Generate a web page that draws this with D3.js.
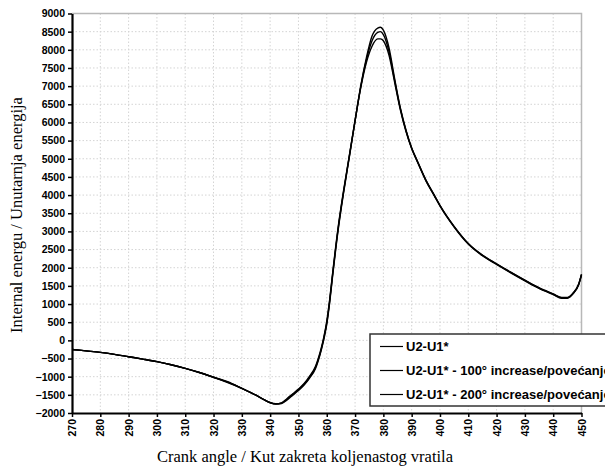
<!DOCTYPE html>
<html>
<head>
<meta charset="utf-8">
<script src="https://cdn.jsdelivr.net/npm/d3@7"></script>
<style>
  body { margin: 0; background: #fff; }
  svg { display: block; }
</style>
</head>
<body>
<div id="chart-area"></div>
<script>
// crank angle (deg) and internal energy for the three runs
var angles = [270, 275, 280, 285, 290, 295, 300, 305, 310, 315, 320, 325, 330, 335, 338, 340, 342, 344, 346, 348, 350, 352, 354, 356, 357, 358, 359, 360, 361, 362, 364, 366, 368, 370, 372, 374, 376, 378, 379, 380, 382, 384, 386, 388, 390, 392, 395, 398, 400, 405, 410, 415, 420, 425, 430, 435, 440, 443, 445, 447, 449, 450];
var base = [-250, -290, -330, -385, -450, -515, -585, -670, -770, -885, -1015, -1160, -1320, -1510, -1640, -1710, -1745, -1720, -1600, -1470, -1340, -1190, -980, -720, -500, -230, 100, 520, 1100, 1800, 3100, 4150, 5100, 6050, 6950, 7650, 8100, 8300, 8300, 8250, 7850, 7100, 6350, 5750, 5280, 4920, 4400, 3980, 3700, 3120, 2650, 2330, 2090, 1860, 1640, 1430, 1260, 1160, 1160, 1280, 1530, 1800];
var run100 = [-250, -290, -330, -385, -450, -515, -585, -670, -770, -885, -1015, -1140, -1320, -1510, -1640, -1715, -1750, -1730, -1620, -1490, -1360, -1210, -1010, -750, -530, -260, 70, 480, 1060, 1760, 3060, 4120, 5080, 6050, 6980, 7720, 8250, 8480, 8500, 8420, 7950, 7150, 6380, 5770, 5290, 4930, 4410, 3990, 3710, 3130, 2660, 2340, 2100, 1870, 1650, 1440, 1270, 1170, 1170, 1290, 1540, 1810];
var run200 = [-250, -290, -330, -385, -450, -515, -585, -670, -770, -885, -1015, -1150, -1320, -1510, -1640, -1720, -1755, -1740, -1640, -1510, -1380, -1230, -1030, -780, -560, -290, 40, 440, 1020, 1720, 3020, 4090, 5060, 6040, 7000, 7780, 8380, 8600, 8620, 8540, 8050, 7200, 6400, 5790, 5300, 4940, 4420, 4000, 3720, 3140, 2670, 2350, 2110, 1880, 1660, 1450, 1280, 1180, 1180, 1300, 1550, 1820];
var seriesNames = ["U2-U1*", "U2-U1* - 100\u00b0 increase/pove\u0107anje", "U2-U1* - 200\u00b0 increase/pove\u0107anje"];
var xTicks = d3.range(270, 451, 10);
var yTicks = d3.range(-2000, 9001, 500);

const MARGIN = { LEFT: 72, RIGHT: 23.5, TOP: 13.5, BOTTOM: 57 }
const WIDTH = 605 - MARGIN.LEFT - MARGIN.RIGHT
const HEIGHT = 470 - MARGIN.TOP - MARGIN.BOTTOM

const svg = d3.select("#chart-area").append("svg")
  .attr("width", 605)
  .attr("height", 470)

const g = svg.append("g")
  .attr("transform", `translate(${MARGIN.LEFT}, ${MARGIN.TOP})`)

var xScale = d3.scaleLinear().domain([270, 450]).range([0, WIDTH]);
var yScale = d3.scaleLinear().domain([-2000, 9000]).range([HEIGHT, 0]);

// dotted grid
g.append("g").selectAll("line").data(xTicks.slice(1)).enter().append("line")
  .attr("x1", d => xScale(d)).attr("x2", d => xScale(d))
  .attr("y1", 0).attr("y2", HEIGHT)
  .attr("stroke", "#d4d4d4").attr("stroke-dasharray", "1.5,2");
g.append("g").selectAll("line").data(yTicks.slice(1)).enter().append("line")
  .attr("x1", 0).attr("x2", WIDTH)
  .attr("y1", d => yScale(d)).attr("y2", d => yScale(d))
  .attr("stroke", "#d4d4d4").attr("stroke-dasharray", "1.5,2");

// top & right border
g.append("path")
  .attr("d", `M0,0H${WIDTH}V${HEIGHT}`)
  .attr("fill", "none").attr("stroke", "#b8b8b8").attr("stroke-width", 1.5);

var lineGenerator = d3.line()
  .x((d, i) => xScale(angles[i]))
  .y(d => yScale(d))
  .curve(d3.curveMonotoneX);

[base, run100, run200].forEach(function(s) {
  g.append("path")
    .attr("fill", "none")
    .attr("stroke", "#000")
    .attr("stroke-width", 1.4)
    .attr("d", lineGenerator(s));
});

// axes
var xAxis = g.append("g")
  .attr("transform", "translate(0," + HEIGHT + ")")
  .call(d3.axisBottom(xScale).tickValues(xTicks).tickSize(4).tickSizeOuter(0).tickFormat(d3.format("d")));
xAxis.selectAll("text")
  .attr("transform", "rotate(-90)")
  .attr("text-anchor", "end")
  .attr("x", -6).attr("y", 0).attr("dy", "0.35em");

var yAxis = g.append("g")
  .call(d3.axisLeft(yScale).tickValues(yTicks).tickSize(4).tickSizeOuter(0).tickFormat(d3.format("d")));
yAxis.selectAll("text").attr("x", -7);

svg.selectAll(".tick text")
  .attr("font-family", "Liberation Sans, Arial, sans-serif")
  .attr("font-size", 10.5).attr("font-weight", "bold").attr("fill", "#000");
svg.selectAll(".tick line").attr("stroke", "#000").attr("stroke-width", 1.5);
svg.selectAll(".domain").attr("stroke", "#000").attr("stroke-width", 2.2);

// axis titles
svg.append("text")
  .attr("x", 305).attr("y", 462)
  .attr("text-anchor", "middle")
  .attr("font-family", "Liberation Serif, Times New Roman, serif")
  .attr("font-size", 16.5)
  .text("Crank angle / Kut zakreta koljenastog vratila");

svg.append("text")
  .attr("transform", "translate(22,215) rotate(-90)")
  .attr("text-anchor", "middle")
  .attr("font-family", "Liberation Serif, Times New Roman, serif")
  .attr("font-size", 16.5)
  .text("Internal energu / Unutarnja energija");

// legend
var legend = svg.append("g").attr("transform", "translate(370,334)");
legend.append("rect")
  .attr("width", 260).attr("height", 72)
  .attr("fill", "#fff").attr("stroke", "#333").attr("stroke-width", 1.5);
seriesNames.forEach(function(name, i) {
  var yy = 12.5 + i * 24;
  legend.append("line")
    .attr("x1", 10).attr("x2", 33).attr("y1", yy).attr("y2", yy)
    .attr("stroke", "#000").attr("stroke-width", 1.2);
  legend.append("text")
    .attr("x", 36).attr("y", yy).attr("dy", "0.35em")
    .attr("font-family", "Liberation Sans, Arial, sans-serif")
    .attr("font-size", 13).attr("font-weight", "bold")
    .text(name);
});
</script>
</body>
</html>
